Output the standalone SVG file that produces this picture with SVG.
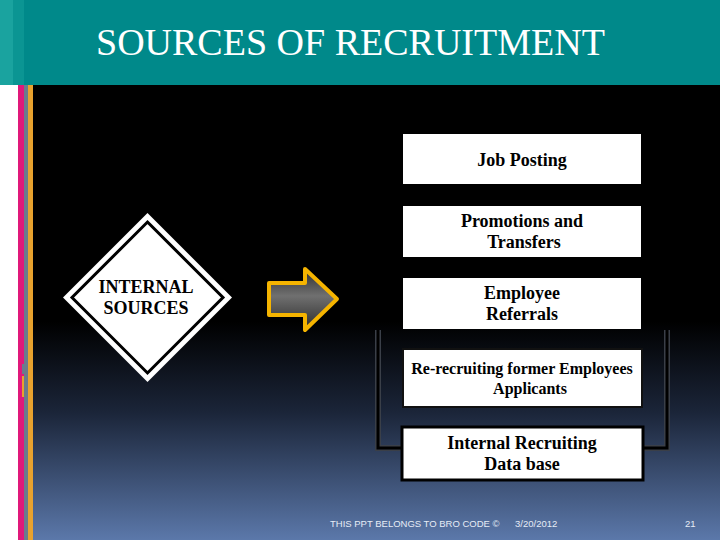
<svg xmlns="http://www.w3.org/2000/svg" width="720" height="540" viewBox="0 0 720 540">
<defs>
<linearGradient id="bg" x1="0" y1="85" x2="0" y2="540" gradientUnits="userSpaceOnUse">
<stop offset="0" stop-color="#000"/>
<stop offset="0.52" stop-color="#000"/>
<stop offset="0.72" stop-color="#1b2539"/>
<stop offset="1" stop-color="#5b78aa"/>
</linearGradient>
<linearGradient id="arr" x1="0" y1="268" x2="0" y2="330" gradientUnits="userSpaceOnUse">
<stop offset="0" stop-color="#2a2a2a"/>
<stop offset="0.45" stop-color="#707070"/>
<stop offset="1" stop-color="#2a2a2a"/>
</linearGradient>
<style>
.box{fill:#fff}
.t{font-family:"Liberation Serif","Times New Roman",serif;font-weight:bold;font-size:18px;fill:#000;text-anchor:middle}
.foot{font-family:"Liberation Sans",Arial,sans-serif;font-size:9.5px;fill:#e6ecf6}
</style>
</defs>
<rect x="0" y="0" width="720" height="540" fill="url(#bg)"/>
<rect x="0" y="85" width="18" height="455" fill="#fff"/>
<rect x="18" y="85" width="6" height="455" fill="#e0197a"/>
<rect x="24" y="85" width="4" height="455" fill="#6b7b8c"/>
<rect x="28" y="85" width="5" height="455" fill="#e8a22e"/>
<rect x="22" y="364" width="2" height="10" fill="#6b7b8c"/>
<rect x="22" y="376" width="2" height="21" fill="#e8a22e"/>
<g id="header">
<rect x="0" y="0" width="720" height="85" fill="#00898a"/>
<rect x="0" y="0" width="13" height="85" fill="#1aa39f"/>
<rect x="13" y="0" width="11" height="85" fill="#0b9593"/>
<text x="96" y="55" font-family="'Liberation Serif','Times New Roman',serif" font-size="38" fill="#fff">SOURCES OF RECRUITMENT</text>
</g>
<g id="connectors">
<path d="M378 330 V448 H402 M667 330 V448 H643" fill="none" stroke="#3a3f48" stroke-width="6"/>
<path d="M378 330 V448 H402 M667 330 V448 H643" fill="none" stroke="#000" stroke-width="3"/>
</g>
<g id="internal-sources">
<polygon points="147.5,213 232,297.5 147.5,382 63,297.5" fill="#fff"/>
<polygon points="147.5,222 223,297.5 147.5,373 72,297.5" fill="#fff" stroke="#000" stroke-width="3"/>
<text class="t" x="146" y="293">INTERNAL</text>
<text class="t" x="146" y="314">SOURCES</text>
</g>
<g id="arrow">
<polygon points="269,283 305,283 305,269 337,299 305,330 305,315 269,315" fill="url(#arr)" stroke="#f5b400" stroke-width="4" stroke-linejoin="round"/>
</g>
<g id="job-posting">
<rect class="box" x="403" y="134" width="238" height="50"/>
<text class="t" x="522" y="166">Job Posting</text>
</g>
<g id="promotions">
<rect class="box" x="403" y="206" width="238" height="51"/>
<text class="t" x="522" y="227">Promotions and</text>
<text class="t" x="524" y="248">Transfers</text>
</g>
<g id="employee-referrals">
<rect class="box" x="403" y="278" width="238" height="51"/>
<text class="t" x="522" y="299">Employee</text>
<text class="t" x="522" y="320">Referrals</text>
</g>
<g id="re-recruiting">
<rect class="box" x="403" y="349" width="239" height="58" stroke="#111" stroke-width="2"/>
<text class="t" x="522" y="374" style="font-size:16px">Re-recruiting former Employees</text>
<text class="t" x="530" y="394" style="font-size:16px">Applicants</text>
</g>
<g id="internal-database">
<rect class="box" x="402" y="427" width="241" height="53" stroke="#000" stroke-width="3"/>
<text class="t" x="522" y="449">Internal Recruiting</text>
<text class="t" x="522" y="470">Data base</text>
</g>
<g id="footer">
<text class="foot" x="330" y="527">THIS PPT BELONGS TO BRO CODE ©</text>
<text class="foot" x="515" y="527">3/20/2012</text>
<text class="foot" x="685" y="527">21</text>
</g>
</svg>
